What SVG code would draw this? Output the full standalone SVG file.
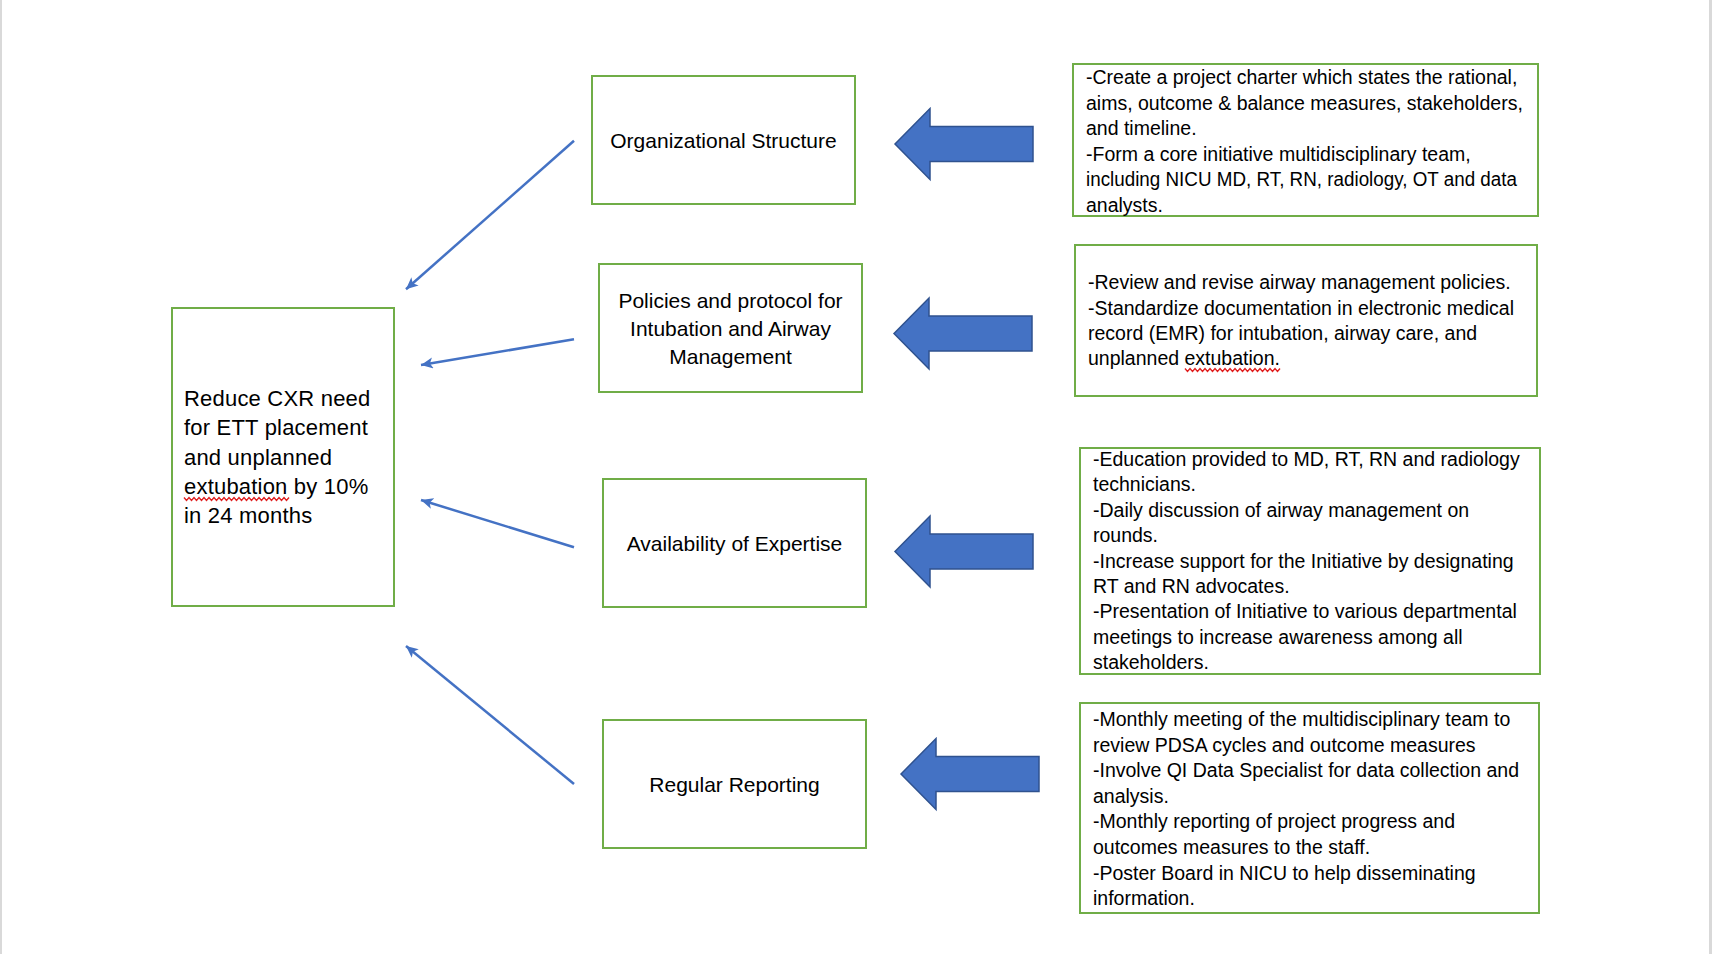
<svg xmlns="http://www.w3.org/2000/svg" xmlns:xlink="http://www.w3.org/1999/xlink" width="1712" height="954" viewBox="0 0 1712 954">
<style>
.box{fill:#ffffff;stroke:#70AD47;stroke-width:2}
.t{font-family:"Liberation Sans",Arial,sans-serif;fill:#000000}
.mid{font-size:21px;text-anchor:middle}
.goal{font-size:22px;letter-spacing:0.2px}
.side{font-size:19.5px}
.conn{fill:none;stroke:#4472C4;stroke-width:2.5}
.block{fill:#4472C4;stroke:#2F528F;stroke-width:1.5;stroke-linejoin:miter}
.sq{fill:none;stroke:#E02020;stroke-width:1.4}
</style>
<defs>
<marker id="ah" markerUnits="userSpaceOnUse" markerWidth="14" markerHeight="12" refX="12" refY="5.5" orient="auto">
<path d="M0,0 L12,5.5 L0,11 L3,5.5 z" fill="#4472C4"/>
</marker>
<path id="bigArrow" d="M0,0 L35,-35.5 L35,-17.5 L138,-17.5 L138,17.5 L35,17.5 L35,35.5 z"/>
</defs>
<rect x="0" y="0" width="1712" height="954" fill="#ffffff"/>
<rect x="0" y="0" width="2" height="954" fill="#d9d9d9"/>
<rect x="1709" y="0" width="3" height="954" fill="#d9d9d9"/>

<g id="goal">
<rect class="box" x="172" y="308" width="222" height="298"/>
<text class="t goal"><tspan x="184" y="406">Reduce CXR need</tspan><tspan x="184" y="435.3">for ETT placement</tspan><tspan x="184" y="464.6">and unplanned</tspan><tspan x="184" y="494">extubation by 10%</tspan><tspan x="184" y="523.3">in 24 months</tspan></text>
<path class="sq" d="M184,497.5 l2.5,3 l2.5,-3 l2.5,3 l2.5,-3 l2.5,3 l2.5,-3 l2.5,3 l2.5,-3 l2.5,3 l2.5,-3 l2.5,3 l2.5,-3 l2.5,3 l2.5,-3 l2.5,3 l2.5,-3 l2.5,3 l2.5,-3 l2.5,3 l2.5,-3 l2.5,3 l2.5,-3 l2.5,3 l2.5,-3 l2.5,3 l2.5,-3 l2.5,3 l2.5,-3 l2.5,3 l2.5,-3 l2.5,3 l2.5,-3 l2.5,3 l2.5,-3 l2.5,3 l2.5,-3 l2.5,3 l2.5,-3 l2.5,3 l2.5,-3 l2.5,3 l2.5,-3"/>
</g>

<g id="org-structure">
<rect class="box" x="592" y="76" width="263" height="128"/>
<text class="t mid" x="723.5" y="148">Organizational Structure</text>
</g>
<g id="policies">
<rect class="box" x="599" y="264" width="263" height="128"/>
<text class="t mid"><tspan x="730.5" y="308.3">Policies and protocol for</tspan><tspan x="730.5" y="336">Intubation and Airway</tspan><tspan x="730.5" y="363.5">Management</tspan></text>
</g>
<g id="expertise">
<rect class="box" x="603" y="479" width="263" height="128"/>
<text class="t mid" x="734.5" y="551">Availability of Expertise</text>
</g>
<g id="reporting">
<rect class="box" x="603" y="720" width="263" height="128"/>
<text class="t mid" x="734.5" y="792.3">Regular Reporting</text>
</g>

<g id="org-actions">
<rect class="box" x="1073" y="64" width="465" height="152"/>
<text class="t side"><tspan x="1086" y="84.3">-Create a project charter which states the rational,</tspan><tspan x="1086" y="109.8">aims, outcome &amp; balance measures, stakeholders,</tspan><tspan x="1086" y="135.3">and timeline.</tspan><tspan x="1086" y="160.8">-Form a core initiative multidisciplinary team,</tspan><tspan x="1086" y="186.3" textLength="431" lengthAdjust="spacingAndGlyphs">including NICU MD, RT, RN, radiology, OT and data</tspan><tspan x="1086" y="211.8">analysts.</tspan></text>
</g>
<g id="policy-actions">
<rect class="box" x="1075" y="245" width="462" height="151"/>
<text class="t side"><tspan x="1088" y="289.3">-Review and revise airway management policies.</tspan><tspan x="1088" y="314.5">-Standardize documentation in electronic medical</tspan><tspan x="1088" y="339.7">record (EMR) for intubation, airway care, and</tspan><tspan x="1088" y="365">unplanned extubation.</tspan></text>
<path class="sq" d="M1185,368.5 l2.5,3 l2.5,-3 l2.5,3 l2.5,-3 l2.5,3 l2.5,-3 l2.5,3 l2.5,-3 l2.5,3 l2.5,-3 l2.5,3 l2.5,-3 l2.5,3 l2.5,-3 l2.5,3 l2.5,-3 l2.5,3 l2.5,-3 l2.5,3 l2.5,-3 l2.5,3 l2.5,-3 l2.5,3 l2.5,-3 l2.5,3 l2.5,-3 l2.5,3 l2.5,-3 l2.5,3 l2.5,-3 l2.5,3 l2.5,-3 l2.5,3 l2.5,-3 l2.5,3 l2.5,-3 l2.5,3 l2.5,-3"/>
</g>
<g id="expertise-actions">
<rect class="box" x="1080" y="448" width="460" height="226"/>
<text class="t side"><tspan x="1093" y="466">-Education provided to MD, RT, RN and radiology</tspan><tspan x="1093" y="491.4">technicians.</tspan><tspan x="1093" y="516.8">-Daily discussion of airway management on</tspan><tspan x="1093" y="542.2">rounds.</tspan><tspan x="1093" y="567.6">-Increase support for the Initiative by designating</tspan><tspan x="1093" y="593">RT and RN advocates.</tspan><tspan x="1093" y="618.4">-Presentation of Initiative to various departmental</tspan><tspan x="1093" y="643.8">meetings to increase awareness among all</tspan><tspan x="1093" y="669.2">stakeholders.</tspan></text>
</g>
<g id="reporting-actions">
<rect class="box" x="1080" y="703" width="459" height="210"/>
<text class="t side"><tspan x="1093" y="726">-Monthly meeting of the multidisciplinary team to</tspan><tspan x="1093" y="751.6">review PDSA cycles and outcome measures</tspan><tspan x="1093" y="777.2">-Involve QI Data Specialist for data collection and</tspan><tspan x="1093" y="802.8">analysis.</tspan><tspan x="1093" y="828.4">-Monthly reporting of project progress and</tspan><tspan x="1093" y="854">outcomes measures to the staff.</tspan><tspan x="1093" y="879.6">-Poster Board in NICU to help disseminating</tspan><tspan x="1093" y="905.2">information.</tspan></text>
</g>

<g id="connectors">
<line class="conn" x1="574" y1="140.7" x2="406" y2="289.3" marker-end="url(#ah)"/>
<line class="conn" x1="574" y1="339.3" x2="421" y2="365" marker-end="url(#ah)"/>
<line class="conn" x1="574" y1="547.3" x2="421" y2="500" marker-end="url(#ah)"/>
<line class="conn" x1="574" y1="784" x2="406" y2="646" marker-end="url(#ah)"/>
<use xlink:href="#bigArrow" class="block" transform="translate(895,144)"/>
<use xlink:href="#bigArrow" class="block" transform="translate(894,333.5)"/>
<use xlink:href="#bigArrow" class="block" transform="translate(895,551.5)"/>
<use xlink:href="#bigArrow" class="block" transform="translate(901,774)"/>
</g>
</svg>
